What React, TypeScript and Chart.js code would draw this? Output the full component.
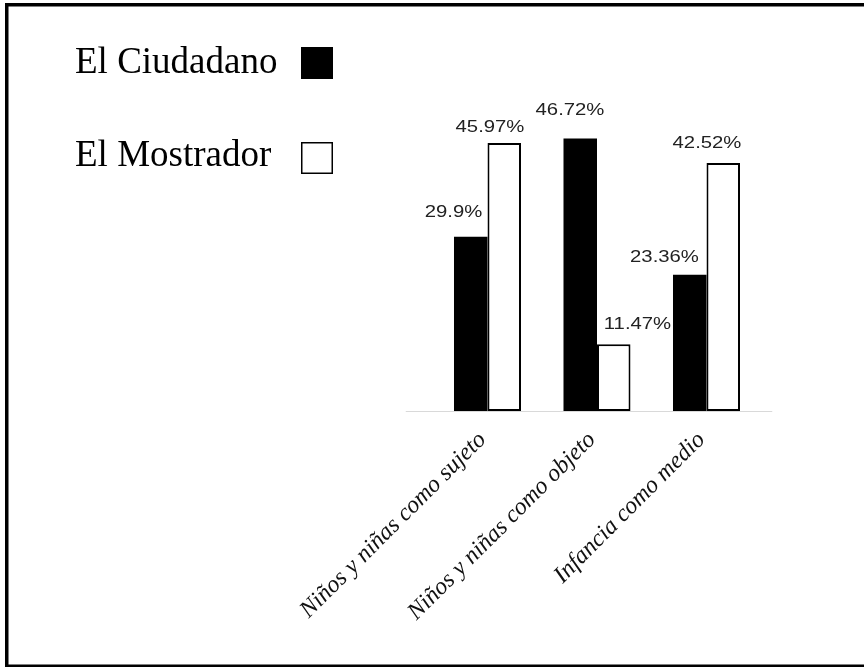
import { useEffect, useRef } from "react";
import { Chart, registerables } from "chart.js";

Chart.register(...registerables);

// ---- data ----
const categories = [
  "Niños y niñas como sujeto",
  "Niños y niñas como objeto",
  "Infancia como medio",
];
const seriesNames = ["El Ciudadano", "El Mostrador"];
const elCiudadano = [29.9, 46.72, 23.36];
const elMostrador = [45.97, 11.47, 42.52];
const yMin = 0;
const yMax = 50;

// ---- style ----
const W = 864;
const H = 667;
const labelNudge = [
  [
    [-0.5, -4],
    [6.5, -8],
    [-8.5, 3],
  ],
  [
    [2.5, 4],
    [40.5, 0],
    [0.5, 0],
  ],
];

const framePlugin = {
  id: "frame",
  beforeDraw(chart: any) {
    const ctx = chart.ctx;
    ctx.save();
    ctx.fillStyle = "#ffffff";
    ctx.fillRect(0, 0, W, H);
    ctx.fillStyle = "#000000";
    ctx.fillRect(5, 3, W - 5, 3.5); // top
    ctx.fillRect(5, 3, 3.5, H - 3); // left
    ctx.fillRect(5, 664.5, W - 5, 3); // bottom
    ctx.restore();
  },
};

const baselinePlugin = {
  id: "baseline",
  beforeDatasetsDraw(chart: any) {
    const ctx = chart.ctx;
    const { left, right } = chart.chartArea;
    const y = chart.scales.y.getPixelForValue(0);
    ctx.save();
    ctx.strokeStyle = "#d9d9d9";
    ctx.lineWidth = 1.2;
    ctx.beginPath();
    ctx.moveTo(left - 27, y + 0.5);
    ctx.lineTo(right + 11, y + 0.5);
    ctx.stroke();
    ctx.restore();
  },
};

const valueLabelPlugin = {
  id: "valueLabels",
  afterDatasetsDraw(chart: any) {
    const ctx = chart.ctx;
    ctx.save();
    ctx.font = '16.5px "Liberation Sans", Arial, sans-serif';
    ctx.fillStyle = "#222222";
    ctx.textAlign = "center";
    ctx.textBaseline = "middle";
    chart.data.datasets.forEach((ds: any, di: number) => {
      const meta = chart.getDatasetMeta(di);
      meta.data.forEach((el: any, i: number) => {
        const p = el.getProps(["x", "y", "width"], true);
        const n = labelNudge[di][i];
        const px = p.x - p.width / 2 + n[0];
        const py = p.y - 20 + n[1];
        ctx.save();
        ctx.translate(px, py);
        ctx.scale(1.23, 1);
        ctx.fillText(`${ds.data[i]}%`, 0, 0);
        ctx.restore();
      });
    });
    ctx.restore();
  },
};

const legendPlugin = {
  id: "customLegend",
  afterDraw(chart: any) {
    const ctx = chart.ctx;
    ctx.save();
    ctx.font = '37px "Liberation Serif", "Times New Roman", serif';
    ctx.textAlign = "left";
    ctx.textBaseline = "alphabetic";
    const rows = [
      { base: 72.5, boxY: 47 },
      { base: 166, boxY: 142 },
    ];
    chart.data.datasets.forEach((ds: any, di: number) => {
      const r = rows[di];
      ctx.fillStyle = "#000000";
      ctx.fillText(ds.label, 75, r.base);
      ctx.fillStyle = ds.backgroundColor;
      ctx.fillRect(301, r.boxY, 32, 32);
      if (ds.borderWidth) {
        ctx.strokeStyle = "#000000";
        ctx.lineWidth = 1.5;
        ctx.strokeRect(301.75, r.boxY + 0.75, 30.5, 30.5);
      }
    });
    ctx.restore();
  },
};

export default function App() {
  const ref = useRef<HTMLCanvasElement | null>(null);

  useEffect(() => {
    if (!ref.current) return;
    const chart = new Chart(ref.current, {
      type: "bar",
      data: {
        labels: categories,
        datasets: [
          {
            label: seriesNames[0],
            data: elCiudadano,
            backgroundColor: "#000000",
            borderWidth: 0,
          },
          {
            label: seriesNames[1],
            data: elMostrador,
            backgroundColor: "#ffffff",
            borderColor: "#000000",
            borderWidth: 2,
            borderSkipped: false,
          },
        ],
      },
      options: {
        responsive: false,
        animation: false,
        devicePixelRatio: 1,
        layout: {
          padding: { left: 432.75, right: 102.75, top: 119.5, bottom: 0 },
        },
        datasets: {
          bar: { categoryPercentage: 0.612, barPercentage: 1 },
        },
        plugins: {
          legend: { display: false },
          tooltip: { enabled: false },
          title: { display: false },
        },
        scales: {
          x: {
            grid: { display: false },
            border: { display: false },
            afterFit(scale: any) {
              scale.height = 256;
            },
            ticks: {
              minRotation: 45,
              maxRotation: 45,
              padding: 7,
              labelOffset: -5,
              color: "#111111",
              font: {
                family: '"Liberation Serif", "Times New Roman", serif',
                size: 24,
                style: "italic",
              },
            },
          },
          y: {
            display: false,
            min: yMin,
            max: yMax,
          },
        },
      },
      plugins: [framePlugin, baselinePlugin, valueLabelPlugin, legendPlugin],
    });
    return () => chart.destroy();
  }, []);

  return (
    <div style={{ position: "absolute", left: 0, top: 0, width: W, height: H }}>
      <canvas ref={ref} width={W} height={H} style={{ display: "block" }} />
    </div>
  );
}
